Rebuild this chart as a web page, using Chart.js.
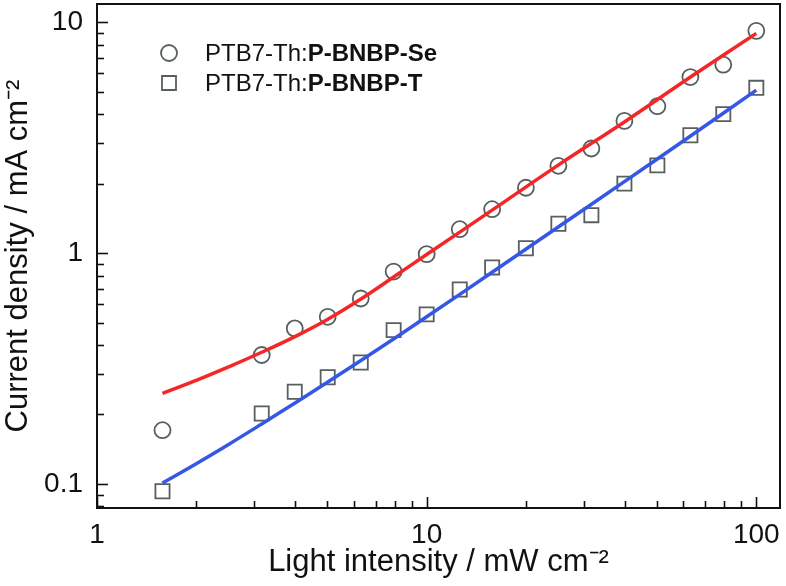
<!DOCTYPE html>
<html>
<head>
<meta charset="utf-8">
<script src="https://cdn.jsdelivr.net/npm/chart.js@4.4.1/dist/chart.umd.min.js"></script>
<style>
  html, body { margin: 0; padding: 0; background: #fff; }
  #wrap { width: 786px; height: 586px; }
</style>
</head>
<body>
<div id="wrap"><canvas id="chart" width="786" height="586"></canvas></div>
<script>
// measured points (light intensity, mW cm-2)
const intensity = [1.58, 3.16, 3.98, 5.01, 6.31, 7.94, 10, 12.6, 15.8, 20, 25.1, 31.6, 39.8, 50.1, 63.1, 79.4, 100];
const seValues = [0.171, 0.362, 0.472, 0.530, 0.636, 0.832, 0.99, 1.27, 1.55, 1.92, 2.39, 2.84, 3.74, 4.33, 5.79, 6.55, 9.18];
const tValues = [0.093, 0.202, 0.251, 0.290, 0.336, 0.464, 0.543, 0.696, 0.867, 1.05, 1.34, 1.46, 2.00, 2.40, 3.24, 4.00, 5.20];

// fitted curves
const fitX = [1.58, 2, 2.5, 3.16, 4, 5, 6.3, 8, 10, 15.8, 25, 40, 63, 100];
const seFit = [0.247, 0.281, 0.321, 0.372, 0.436, 0.516, 0.631, 0.794, 0.986, 1.535, 2.40, 3.72, 5.78, 8.95];
const tFit = [0.101, 0.1225, 0.148, 0.182, 0.225, 0.276, 0.342, 0.428, 0.530, 0.826, 1.294, 2.05, 3.21, 5.08];

// axis ticks
const xMajor = [1, 10, 100];
const xMinor = [2, 3, 4, 5, 6, 7, 8, 9, 20, 30, 40, 50, 60, 70, 80, 90];
const yMajor = [0.1, 1, 10];
const yMinor = [0.08, 0.09, 0.2, 0.3, 0.4, 0.5, 0.6, 0.7, 0.8, 0.9, 2, 3, 4, 5, 6, 7, 8, 9];

const legendItems = [
  { prefix: 'PTB7-Th:', name: 'P-BNBP-Se', marker: 'circle' },
  { prefix: 'PTB7-Th:', name: 'P-BNBP-T', marker: 'rect' }
];

const FONT = "'Liberation Sans', Arial, Helvetica, sans-serif";
const INK = '#111';
const MARK = '#55605f';

const toXY = (xs, ys) => xs.map((x, i) => ({ x: x, y: ys[i] }));

// box + inward ticks + legend
const framePlugin = {
  id: 'frame',
  afterDatasetsDraw(chart) {
    const { ctx, chartArea: a, scales: { x, y } } = chart;
    ctx.save();
    ctx.strokeStyle = INK;
    ctx.lineWidth = 1.6;
    const tickX = (v, len) => {
      const px = Math.round(x.getPixelForValue(v)) + 0.5;
      ctx.beginPath(); ctx.moveTo(px, a.bottom); ctx.lineTo(px, a.bottom - len); ctx.stroke();
    };
    const tickY = (v, len) => {
      const py = Math.round(y.getPixelForValue(v)) + 0.5;
      ctx.beginPath(); ctx.moveTo(a.left, py); ctx.lineTo(a.left + len, py); ctx.stroke();
    };
    xMajor.forEach(v => tickX(v, 11));
    xMinor.forEach(v => tickX(v, 7));
    yMajor.forEach(v => tickY(v, 11));
    yMinor.forEach(v => tickY(v, 7));
    ctx.lineWidth = 2;
    ctx.strokeRect(a.left, a.top, a.right - a.left, a.bottom - a.top);
    ctx.restore();
  },
  afterDraw(chart) {
    const ctx = chart.ctx;
    ctx.save();
    legendItems.forEach((item, i) => {
      const cy = 53 + i * 30;
      const cx = 169;
      ctx.strokeStyle = MARK;
      ctx.lineWidth = 1.8;
      ctx.beginPath();
      if (item.marker === 'circle') ctx.arc(cx, cy, 8, 0, Math.PI * 2);
      else ctx.rect(cx - 7, cy - 7, 14, 14);
      ctx.stroke();
      ctx.fillStyle = INK;
      ctx.textBaseline = 'middle';
      ctx.font = '24px ' + FONT;
      ctx.fillText(item.prefix, 205, cy + 1);
      const w = ctx.measureText(item.prefix).width;
      ctx.font = 'bold 24px ' + FONT;
      ctx.fillText(item.name, 205 + w, cy + 1);
    });
    ctx.restore();
  }
};

new Chart(document.getElementById('chart'), {
  type: 'scatter',
  data: {
    datasets: [
      {
        label: 'Se fit',
        data: toXY(fitX, seFit),
        showLine: true,
        borderColor: '#f42626',
        borderWidth: 3.5,
        pointRadius: 0,
        tension: 0.4
      },
      {
        label: 'T fit',
        data: toXY(fitX, tFit),
        showLine: true,
        borderColor: '#3657e6',
        borderWidth: 3.5,
        pointRadius: 0,
        tension: 0.4
      },
      {
        label: 'PTB7-Th:P-BNBP-Se',
        data: toXY(intensity, seValues),
        pointStyle: 'circle',
        pointRadius: 8,
        borderColor: MARK,
        borderWidth: 1.8,
        backgroundColor: 'rgba(0,0,0,0)'
      },
      {
        label: 'PTB7-Th:P-BNBP-T',
        data: toXY(intensity, tValues),
        pointStyle: 'rect',
        pointRadius: 10,
        borderColor: MARK,
        borderWidth: 1.8,
        backgroundColor: 'rgba(0,0,0,0)'
      }
    ]
  },
  options: {
    responsive: false,
    animation: false,
    layout: { autoPadding: false, padding: { top: 4, right: 6, left: 0, bottom: 0 } },
    plugins: {
      legend: { display: false },
      tooltip: { enabled: false }
    },
    scales: {
      x: {
        type: 'logarithmic',
        position: 'bottom',
        min: 1,
        max: 118,
        grid: { display: false, drawTicks: false },
        border: { display: false },
        afterBuildTicks: (scale) => { scale.ticks = xMajor.map(v => ({ value: v })); },
        afterFit: (scale) => {
          scale.height = 78;
          scale.paddingLeft = 0;
          scale.paddingRight = 0;
        },
        ticks: {
          color: INK,
          padding: 10,
          maxRotation: 0,
          autoSkip: false,
          font: { family: FONT, size: 28 },
          callback: (v) => String(v)
        },
        title: {
          display: true,
          text: 'Light intensity / mW cm\u207B\u00B2',
          color: INK,
          font: { family: FONT, size: 31 },
          padding: { top: 0, bottom: 5 }
        }
      },
      y: {
        type: 'logarithmic',
        min: 0.0787,
        max: 12,
        grid: { display: false, drawTicks: false },
        border: { display: false },
        afterBuildTicks: (scale) => { scale.ticks = yMajor.map(v => ({ value: v })); },
        afterFit: (scale) => {
          scale.width = 97;
          scale.paddingTop = 0;
          scale.paddingBottom = 0;
        },
        ticks: {
          color: INK,
          padding: 14,
          autoSkip: false,
          font: { family: FONT, size: 28 },
          callback: (v) => String(v)
        },
        title: {
          display: true,
          text: 'Current density / mA cm\u207B\u00B2',
          color: INK,
          font: { family: FONT, size: 31 },
          padding: { top: 0, bottom: 0 }
        }
      }
    }
  },
  plugins: [framePlugin]
});
</script>
</body>
</html>
